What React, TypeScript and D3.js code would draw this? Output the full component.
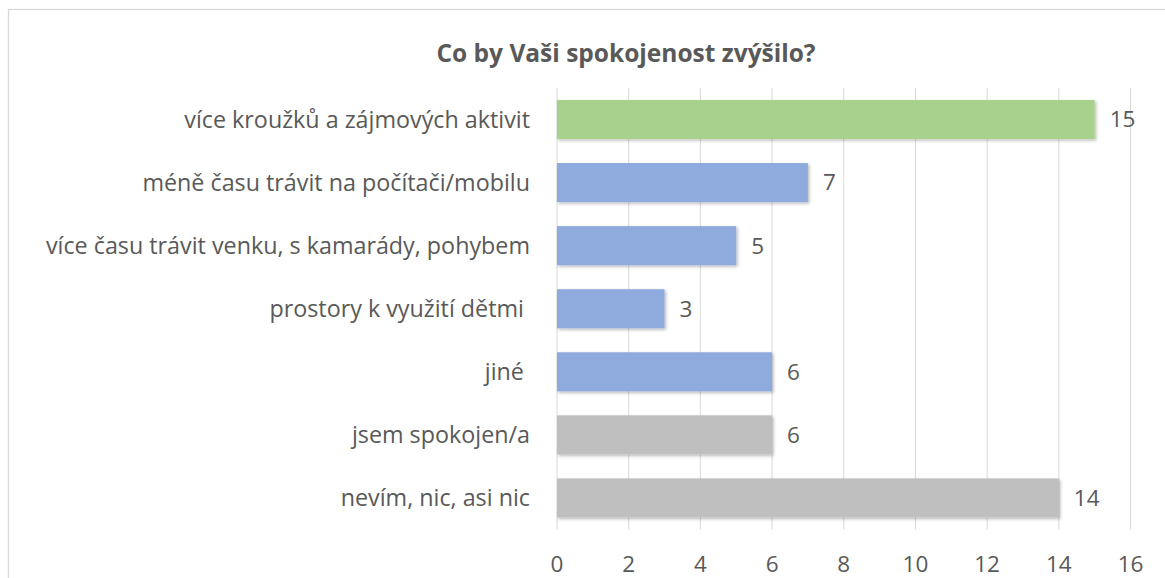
import React from "react";
import * as d3 from "d3";

const title = "Co by Vaši spokojenost zvýšilo?";
const categories = [
  "více kroužků a zájmových aktivit",
  "méně času trávit na počítači/mobilu",
  "více času trávit venku, s kamarády, pohybem",
  "prostory k využití dětmi ",
  "jiné ",
  "jsem spokojen/a",
  "nevím, nic, asi nic",
];
const values = [15, 7, 5, 3, 6, 6, 14];
const colors = ["#a9d18e", "#8faadc", "#8faadc", "#8faadc", "#8faadc", "#bfbfbf", "#bfbfbf"];
const xTicks = [0, 2, 4, 6, 8, 10, 12, 14, 16];

const W = 1165;
const H = 578;
const plot = { left: 557, right: 1130.5, top: 88, bottom: 529.5 };
const FONT = "'Open Sans', 'Noto Sans', sans-serif";
const TXT = "#595959";

export default function App() {
  const x = d3.scaleLinear().domain([0, 16]).range([plot.left, plot.right]);
  const y = d3
    .scaleBand<string>()
    .domain(categories)
    .range([plot.top, plot.bottom])
    .paddingInner(0.38)
    .paddingOuter(0.19);

  return (
    <svg
      width={W}
      height={H}
      style={{ position: "absolute", left: 0, top: 0, background: "#fff" }}
      fontFamily={FONT}
    >
      <defs>
        <filter id="shadow" x="-5%" y="-20%" width="110%" height="150%">
          <feDropShadow dx="1.5" dy="1.5" stdDeviation="1.5" floodColor="#000" floodOpacity="0.28" />
        </filter>
      </defs>
      <rect x={0} y={0} width={W} height={H} fill="#fff" />
      <rect x={8.5} y={9.5} width={W + 20} height={H + 20} fill="#fff" stroke="#d9d9d9" strokeWidth={1.3} />
      <text x={626} y={62} textAnchor="middle" fontSize={24.5} fontWeight="bold" fill={TXT}>
        {title}
      </text>
      {xTicks.map((t) => (
        <line key={"g" + t} x1={x(t)} x2={x(t)} y1={plot.top} y2={plot.bottom} stroke="#d9d9d9" strokeWidth={1} />
      ))}
      {xTicks.map((t) => (
        <text key={"t" + t} x={x(t)} y={572} textAnchor="middle" fontSize={22.5} fill={TXT}>
          {t}
        </text>
      ))}
      {categories.map((c, i) => {
        const yy = y(c)!;
        const bw = y.bandwidth();
        return (
          <g key={c}>
            <rect
              x={x(0)}
              y={yy}
              width={x(values[i]) - x(0)}
              height={bw}
              fill={colors[i]}
              filter="url(#shadow)"
            />
            <text
              x={530}
              y={yy + bw / 2}
              dy="0.35em"
              textAnchor="end"
              fontSize={23.3}
              fill={TXT}
              style={{ whiteSpace: "pre" }}
            >
              {c}
            </text>
            <text x={x(values[i]) + 15} y={yy + bw / 2} dy="0.35em" textAnchor="start" fontSize={22.5} fill={TXT}>
              {values[i]}
            </text>
          </g>
        );
      })}
    </svg>
  );
}
